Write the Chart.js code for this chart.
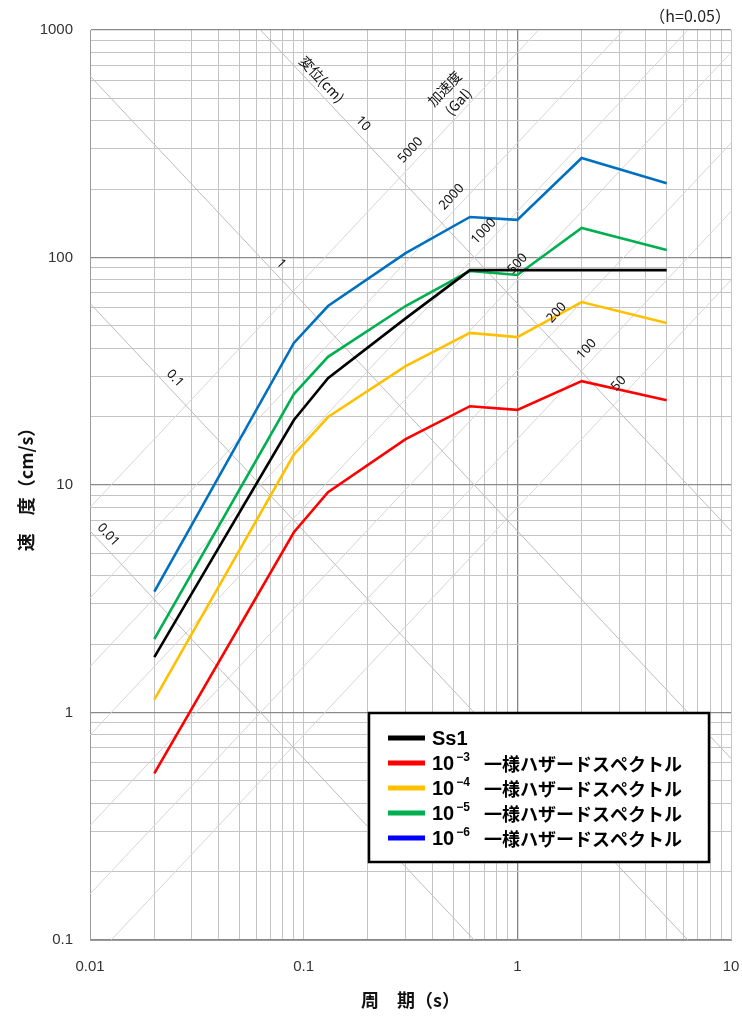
<!DOCTYPE html>
<html>
<head>
<meta charset="utf-8">
<script src="https://cdn.jsdelivr.net/npm/chart.js@4"></script>
<style>
  html, body { margin: 0; padding: 0; background: #fff; }
  canvas { display: block; }
</style>
</head>
<body>
<canvas id="c" width="742" height="1019"></canvas>
<script>
// 周期 (s)
const periods = [0.02, 0.09, 0.13, 0.3, 0.6, 1, 2, 5];
// 擬似速度応答スペクトル (cm/s)
const ss1  = [1.75, 19.3, 29.5, 54, 88, 88, 88, 88];
const uhs3 = [0.54, 6.2, 9.3, 15.9, 22.2, 21.4, 28.6, 23.6];
const uhs4 = [1.14, 13.6, 19.9, 33.3, 46.6, 44.7, 63.7, 51.5];
const uhs5 = [2.1, 25.1, 36.6, 61.2, 87.3, 83.8, 134.9, 107.9];
const uhs6 = [3.4, 42.1, 61.2, 104.6, 150.7, 146.3, 273.6, 212];

// 超過確率の指数（凡例）
const hazardExponents = ['3', '4', '5', '6'];
const hazardName = '一様ハザードスペクトル';

// 三軸グラフの補助線：変位 (cm) と 加速度 (Gal)
const dispLines = [0.01, 0.1, 1, 10];
const accLines = [50, 100, 200, 500, 1000, 2000, 5000];
// 補助線ラベルを置く周期
const dispLabelT = [0.0112, 0.023, 0.0721, 0.1744];
const accLabelT = [3.25, 2.3, 1.664, 1.093, 0.759, 0.537, 0.345];
const dispHeaderT = 0.1117;
const accHeaderT = 0.57;

const xTickLabels = ['0.01', '0.1', '1', '10'];
const yTickLabels = ['0.1', '1', '10', '100', '1000'];

const TWO_PI = 2 * Math.PI;
const dispSv = (D, T) => TWO_PI * D / T;
const accSv = (A, T) => A * T / TWO_PI;

const isPow10 = v => Math.abs(Math.log10(v) - Math.round(Math.log10(v))) < 1e-9;

function decadeTicks(min, max) {
  const out = [];
  const e0 = Math.round(Math.log10(min)), e1 = Math.round(Math.log10(max));
  for (let e = e0; e < e1; e++) {
    for (let m = 1; m <= 9; m++) out.push({ value: +(m * Math.pow(10, e)).toPrecision(6) });
  }
  out.push({ value: max });
  return out;
}

const toXY = vals => periods.map((t, i) => ({ x: t, y: vals[i] }));

const guideSets = [];
dispLines.forEach(D => guideSets.push({
  label: 'D' + D, data: [{ x: 0.01, y: dispSv(D, 0.01) }, { x: 10, y: dispSv(D, 10) }],
  borderColor: '#bdbdbd', borderWidth: 1, pointRadius: 0, order: 10, clip: 0, guide: true
}));
accLines.forEach(A => guideSets.push({
  label: 'A' + A, data: [{ x: 0.01, y: accSv(A, 0.01) }, { x: 10, y: accSv(A, 10) }],
  borderColor: '#d6d6d6', borderWidth: 1, pointRadius: 0, order: 11, clip: 0, guide: true
}));

const mainSets = [
  { label: 'Ss1', data: toXY(ss1), borderColor: '#000000', legendColor: '#000000', order: 0 },
  { label: '10−3 ' + hazardName, exp: hazardExponents[0], data: toXY(uhs3), borderColor: '#FF0000', legendColor: '#FF0000', order: 4 },
  { label: '10−4 ' + hazardName, exp: hazardExponents[1], data: toXY(uhs4), borderColor: '#FFC000', legendColor: '#FFC000', order: 3 },
  { label: '10−5 ' + hazardName, exp: hazardExponents[2], data: toXY(uhs5), borderColor: '#00B050', legendColor: '#00B050', order: 2 },
  { label: '10−6 ' + hazardName, exp: hazardExponents[3], data: toXY(uhs6), borderColor: '#0070C0', legendColor: '#0000FF', order: 1 }
].map(d => Object.assign({ borderWidth: 2.6, pointRadius: 0, tension: 0, fill: false }, d));

// 補助線のラベル・減衰定数・凡例を描くプラグイン
const overlayPlugin = {
  id: 'overlay',
  afterDatasetsDraw(chart) {
    const { ctx, scales: { x, y } } = chart;
    const px = (t, v) => [x.getPixelForValue(t), y.getPixelForValue(v)];
    // 補助線の傾き
    const [ax, ay] = px(0.1, 1), [bx, by] = px(1, 0.1);
    const ang = Math.atan2(by - ay, bx - ax);
    const s = Math.sin(ang), c = Math.cos(ang);

    function rotText(lines, cx, cy, rot, font, lh) {
      ctx.save();
      ctx.translate(cx, cy);
      ctx.rotate(rot);
      ctx.font = font;
      ctx.fillStyle = '#111';
      ctx.textAlign = 'center';
      ctx.textBaseline = 'middle';
      lines.forEach((t, i) => ctx.fillText(t, 0, (i - (lines.length - 1) / 2) * lh));
      ctx.restore();
    }
    const numFont = '13px "Noto Sans", sans-serif';
    const jpFont = '14px "Noto Sans CJK JP", sans-serif';

    // 変位 (右下がり): 法線は右上
    const dn = [s, -c];
    dispLines.forEach((D, i) => {
      const T = dispLabelT[i];
      const [lx, ly] = px(T, dispSv(D, T));
      rotText([String(D)], lx + dn[0] * 10.5, ly + dn[1] * 10.5, ang, numFont, 0);
    });
    {
      const D = dispLines[dispLines.length - 1];
      const [lx, ly] = px(dispHeaderT, dispSv(D, dispHeaderT));
      rotText(['変位(cm)'], lx + dn[0] * 11, ly + dn[1] * 11, ang, jpFont, 0);
    }
    // 加速度 (右上がり): 法線は左上
    const an = [-s, -c];
    accLines.forEach((A, i) => {
      const T = accLabelT[i];
      const [lx, ly] = px(T, accSv(A, T));
      rotText([String(A)], lx + an[0] * 11, ly + an[1] * 11, -ang, numFont, 0);
    });
    {
      const A = accLines[accLines.length - 1];
      const [lx, ly] = px(accHeaderT, accSv(A, accHeaderT));
      rotText(['加速度', '(Gal)'], lx + an[0] * 19, ly + an[1] * 19, -ang, jpFont, 19);
    }
  },
  afterDraw(chart) {
    const { ctx, chartArea: ca } = chart;
    // 減衰定数
    ctx.save();
    ctx.font = '16px "Noto Sans CJK JP", sans-serif';
    ctx.fillStyle = '#222';
    ctx.textAlign = 'right';
    ctx.textBaseline = 'middle';
    ctx.fillText('（h=0.05）', ca.right, 16);
    ctx.restore();

    // 凡例
    const bx = 369, by = 713, bw = 340, bh = 149;
    ctx.save();
    ctx.fillStyle = '#fff';
    ctx.fillRect(bx, by, bw, bh);
    ctx.lineWidth = 2.5;
    ctx.strokeStyle = '#000';
    ctx.strokeRect(bx, by, bw, bh);
    const sets = chart.data.datasets.filter(d => !d.guide);
    sets.forEach((d, i) => {
      const yy = by + 25 + i * 25;
      ctx.strokeStyle = d.legendColor;
      ctx.lineWidth = 5;
      ctx.beginPath();
      ctx.moveTo(bx + 19, yy);
      ctx.lineTo(bx + 56, yy);
      ctx.stroke();
      ctx.fillStyle = '#000';
      ctx.textBaseline = 'middle';
      ctx.textAlign = 'left';
      const tx = bx + 63;
      if (!d.exp) {
        ctx.font = 'bold 20px "Liberation Sans", Arial, sans-serif';
        ctx.fillText(d.label, tx, yy + 1);
      } else {
        ctx.font = 'bold 20px "Liberation Sans", Arial, sans-serif';
        ctx.fillText('10', tx, yy + 1);
        const w10 = ctx.measureText('10').width;
        ctx.font = 'bold 12px "Liberation Sans", Arial, sans-serif';
        ctx.fillText('−' + d.exp, tx + w10 + 2, yy - 5);
        ctx.font = 'bold 18px "Noto Sans CJK JP", sans-serif';
        ctx.fillText(hazardName, bx + 115, yy + 1);
      }
    });
    ctx.restore();
  }
};

const tickFont = { family: '"Liberation Sans", Arial, sans-serif', size: 15 };
const titleFont = { family: '"Noto Sans CJK JP", sans-serif', size: 18, weight: 'bold' };

new Chart(document.getElementById('c'), {
  type: 'line',
  data: { datasets: [...mainSets, ...guideSets] },
  options: {
    responsive: false,
    animation: false,
    devicePixelRatio: 1,
    layout: { padding: { top: 30, right: 11, left: 0, bottom: 0 } },
    plugins: { legend: { display: false }, tooltip: { enabled: false } },
    scales: {
      x: {
        type: 'logarithmic', min: 0.01, max: 10,
        afterBuildTicks: s => { s.ticks = decadeTicks(s.min, s.max); },
        afterFit: s => { s.height = 79; s.paddingRight = 0; s.paddingLeft = 0; },
        ticks: {
          autoSkip: false, maxRotation: 0, padding: 18, color: '#333', font: tickFont,
          callback: v => isPow10(v) ? xTickLabels[Math.round(Math.log10(v)) + 2] : ''
        },
        grid: {
          drawTicks: false,
          color: c => (c.tick && c.tick.value === 1) ? '#858585' : '#c4c4c4',
          lineWidth: c => (c.tick && c.tick.value === 1) ? 1.3 : 1
        },
        border: { display: true, color: '#9a9a9a', width: 1 },
        title: { display: true, text: '周　期（s）', font: titleFont, color: '#111', padding: { top: 0, bottom: 8 } }
      },
      y: {
        type: 'logarithmic', min: 0.1, max: 1000,
        afterBuildTicks: s => { s.ticks = decadeTicks(s.min, s.max); },
        afterFit: s => { s.width = 90; s.paddingTop = 0; s.paddingBottom = 0; },
        ticks: {
          autoSkip: false, padding: 17, color: '#333', font: tickFont,
          callback: v => isPow10(v) ? yTickLabels[Math.round(Math.log10(v)) + 1] : ''
        },
        grid: {
          drawTicks: false,
          color: c => (c.tick && isPow10(c.tick.value)) ? '#8a8a8a' : '#c4c4c4',
          lineWidth: c => (c.tick && isPow10(c.tick.value)) ? 1.3 : 1
        },
        border: { display: true, color: '#9a9a9a', width: 1 },
        title: { display: true, text: '速　度（cm/s）', font: titleFont, color: '#111', padding: { top: 15, bottom: 0 } }
      }
    }
  },
  plugins: [overlayPlugin]
});
</script>
</body>
</html>
